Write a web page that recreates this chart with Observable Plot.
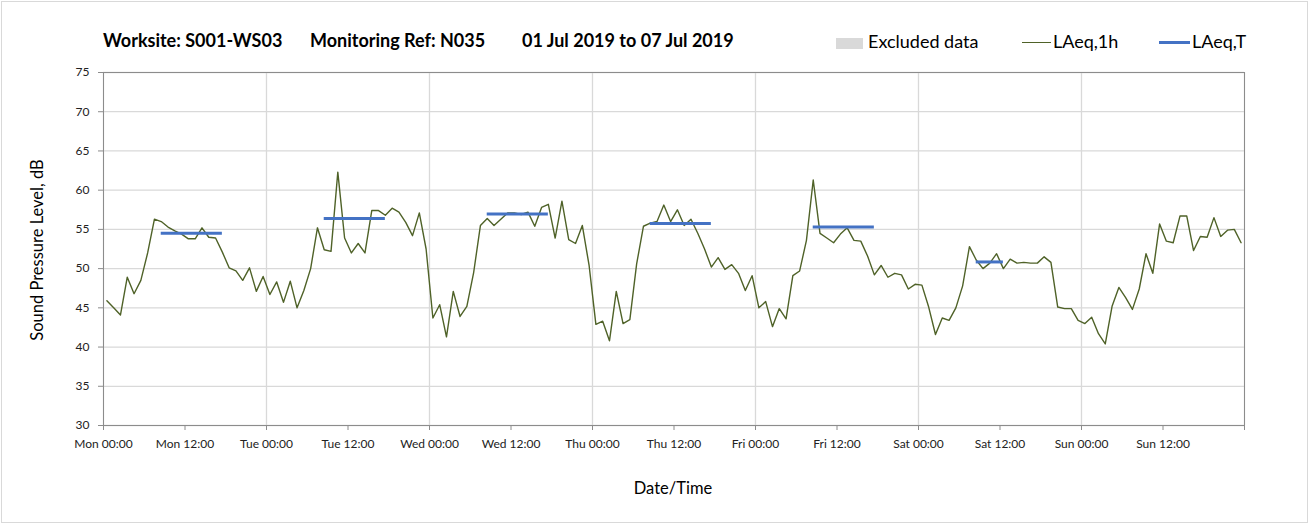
<!DOCTYPE html>
<html><head><meta charset="utf-8">
<script src="https://cdn.jsdelivr.net/npm/d3@7"></script>
<script src="https://cdn.jsdelivr.net/npm/@observablehq/plot@0.6"></script>
<style>
body{margin:0;background:#fff;}
#wrap{position:relative;width:1309px;height:524px;font-family:Lato,"Open Sans",sans-serif;color:#000;box-sizing:border-box;}
#frame{position:absolute;left:1px;top:1px;width:1305px;height:520px;border:1px solid #d9d9d9;pointer-events:none;}
#chart{position:absolute;left:0;top:0;}
#title{position:absolute;left:0;top:29px;font-weight:bold;font-size:18px;white-space:nowrap;}
#title span{position:absolute;top:0;}
#legend{position:absolute;left:836px;top:30px;font-size:18px;white-space:nowrap;}
#legend span.it{position:absolute;top:0;}
.sw{position:absolute;}
#ylabel{position:absolute;left:37px;top:250px;transform:translate(-50%,-50%) rotate(-90deg);font-size:16.5px;white-space:nowrap;}
#xlabel{position:absolute;left:673px;top:488px;transform:translate(-50%,-50%);font-size:16.5px;}
</style></head><body>
<div id="wrap">
  <div id="chart"></div>
  <div id="frame"></div>
  <div id="title"></div>
  <div id="legend"></div>
  <div id="ylabel"></div>
  <div id="xlabel"></div>
</div>
<script>
// ---- data ----
const titleParts = ["Worksite: S001-WS03", "Monitoring Ref: N035", "01 Jul 2019 to 07 Jul 2019"];
const yLabel = "Sound Pressure Level, dB";
const xLabel = "Date/Time";
const legendLabels = ["Excluded data", "LAeq,1h", "LAeq,T"];

// hourly LAeq,1h values, Mon 00:00 .. Sun 23:00
const laeq1h = [
  45.9, 45.0, 44.1, 48.9, 46.8, 48.5, 52.0, 56.3, 56.0, 55.3, 54.8, 54.4,
  53.8, 53.8, 55.2, 54.0, 53.9, 52.1, 50.1, 49.7, 48.5, 50.1, 47.1, 49.0,
  46.7, 48.3, 45.7, 48.4, 45.0, 47.2, 50.0, 55.2, 52.4, 52.2, 62.3, 53.9,
  52.0, 53.2, 52.0, 57.4, 57.4, 56.8, 57.7, 57.2, 55.9, 54.2, 57.1, 52.5,
  43.7, 45.4, 41.3, 47.1, 43.9, 45.2, 49.5, 55.5, 56.4, 55.5, 56.3, 57.1,
  57.1, 56.9, 57.2, 55.4, 57.8, 58.2, 53.9, 58.6, 53.7, 53.2, 55.5, 50.4,
  42.9, 43.3, 40.8, 47.1, 43.0, 43.5, 50.6, 55.4, 55.8, 56.0, 58.1, 56.0,
  57.5, 55.5, 56.3, 54.5, 52.5, 50.2, 51.4, 49.9, 50.5, 49.4, 47.2, 49.1,
  45.0, 45.8, 42.6, 44.9, 43.6, 49.1, 49.7, 53.6, 61.3, 54.5, 53.9, 53.3,
  54.4, 55.2, 53.6, 53.5, 51.6, 49.2, 50.4, 48.9, 49.4, 49.2, 47.4, 48.0,
  47.9, 45.1, 41.6, 43.7, 43.4, 45.0, 47.8, 52.8, 51.1, 50.0, 50.7, 51.9,
  50.0, 51.2, 50.7, 50.8, 50.7, 50.7, 51.5, 50.8, 45.1, 44.9, 44.9, 43.4,
  43.0, 43.8, 41.7, 40.4, 45.2, 47.6, 46.3, 44.8, 47.4, 51.9, 49.4, 55.7,
  53.5, 53.3, 56.7, 56.7, 52.3, 54.1, 54.0, 56.5, 54.1, 54.9, 55.0, 53.3
];

// LAeq,T periods (day index, start hour, end hour, level)
const laeqTDay   = [0, 1, 2, 3, 4, 5];
const laeqTStart = [8, 8, 8, 8, 8, 8];
const laeqTEnd   = [18, 18, 18, 18, 18, 13];
const laeqTValue = [54.5, 56.4, 56.95, 55.75, 55.3, 50.85];

const tickLabels = ["Mon 00:00","Mon 12:00","Tue 00:00","Tue 12:00","Wed 00:00","Wed 12:00",
  "Thu 00:00","Thu 12:00","Fri 00:00","Fri 12:00","Sat 00:00","Sat 12:00","Sun 00:00","Sun 12:00",""];
const yTicks = [30, 35, 40, 45, 50, 55, 60, 65, 70, 75];

// ---- build ----
const hourly = laeq1h.map((v, i) => ({h: i + 0.5, v}));
const periods = laeqTDay.map((d, i) => ({
  x1: d * 24 + laeqTStart[i] + 0.5,
  x2: d * 24 + laeqTEnd[i] - 0.5,
  y: laeqTValue[i]
}));
const xTicks = tickLabels.map((_, i) => i * 12);
const dayLines = d3.range(0, 169, 24);

const green = "#4f6228";
const blue = "#4472c4";

const chart = Plot.plot({
  width: 1309,
  height: 524,
  marginLeft: 103,
  marginRight: 65,
  marginTop: 72,
  marginBottom: 99,
  style: {fontFamily: "Lato, 'Open Sans', sans-serif", fontSize: "12px", color: "#222", background: "transparent"},
  x: {domain: [0, 168], label: null},
  y: {domain: [30, 75], label: null},
  marks: [
    Plot.ruleY(yTicks, {stroke: "#d9d9d9", strokeWidth: 1.3}),
    Plot.ruleX(dayLines, {stroke: "#d9d9d9", strokeWidth: 1.3}),
    Plot.frame({stroke: "#8c8c8c", strokeWidth: 1}),
    Plot.axisX({ticks: xTicks, tickFormat: (d) => tickLabels[d / 12], tickSize: 5, tickPadding: 9, stroke: "#8c8c8c", fill: "#222"}),
    Plot.axisY({ticks: yTicks, tickSize: 5, tickPadding: 9, stroke: "#8c8c8c", fill: "#222"}),
    Plot.line(hourly, {x: "h", y: "v", stroke: green, strokeWidth: 1.4}),
    Plot.ruleY(periods, {x1: "x1", x2: "x2", y: "y", stroke: blue, strokeWidth: 3})
  ]
});
document.getElementById("chart").appendChild(chart);

const titleX = [103, 310, 522];
document.getElementById("title").innerHTML = titleParts
  .map((t, i) => `<span style="left:${titleX[i]}px">${t}</span>`).join("");
document.getElementById("ylabel").textContent = yLabel;
document.getElementById("xlabel").textContent = xLabel;

const lg = document.getElementById("legend");
lg.innerHTML =
  `<div class="sw" style="left:0;top:8px;width:27px;height:11px;background:#d9d9d9"></div>` +
  `<span class="it" style="left:32px">${legendLabels[0]}</span>` +
  `<div class="sw" style="left:186px;top:12px;width:29px;height:0;border-top:1.4px solid ${green}"></div>` +
  `<span class="it" style="left:217px">${legendLabels[1]}</span>` +
  `<div class="sw" style="left:323px;top:11px;width:31px;height:3px;background:${blue}"></div>` +
  `<span class="it" style="left:356px">${legendLabels[2]}</span>`;
</script>
</body></html>
